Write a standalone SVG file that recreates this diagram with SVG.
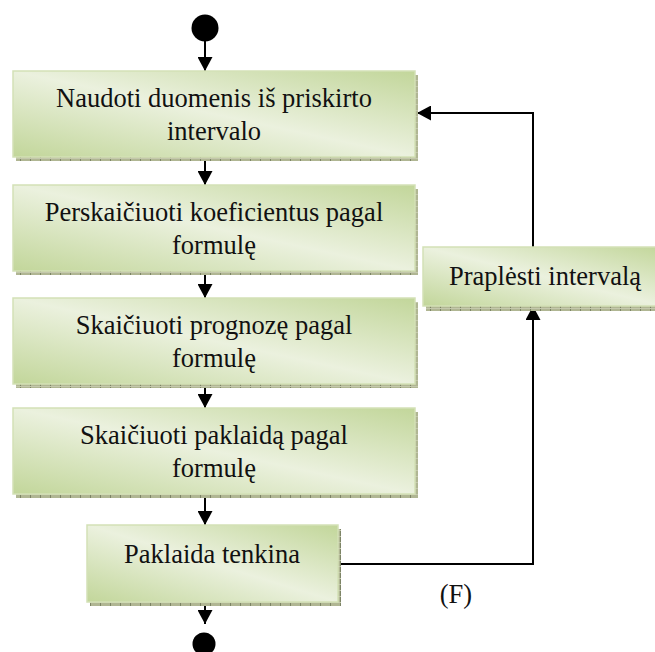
<svg xmlns="http://www.w3.org/2000/svg" width="655" height="652" viewBox="0 0 655 652">
  <defs>
    <linearGradient id="boxFill" x1="1" y1="0" x2="0" y2="1">
      <stop offset="0" stop-color="#c2d69a"/>
      <stop offset="0.5" stop-color="#ebf1de"/>
      <stop offset="1" stop-color="#c2d69a"/>
    </linearGradient>
    <pattern id="shadowTex" width="10" height="6" patternUnits="userSpaceOnUse">
      <rect width="10" height="6" fill="#b0b693"/>
      <rect x="0" y="0" width="1" height="6" fill="#7d8466"/>
      <rect x="0" y="2" width="10" height="1" fill="#c4c8ac"/>
    </pattern>
    <marker id="arrow" viewBox="0 0 14 15" refX="14" refY="7.5" markerWidth="14" markerHeight="15" markerUnits="userSpaceOnUse" orient="auto">
      <path d="M0,0 L14,7.5 L0,15 Z" fill="#000"/>
    </marker>
  </defs>
  <style>
    .shadow { fill: url(#shadowTex); }
    .box { fill: url(#boxFill); stroke: #d3e1b6; stroke-width: 1.5; }
    .label { font-family: "Liberation Serif", "Times New Roman", serif; font-size: 26.5px; fill: #111; text-anchor: middle; }
    .line { fill: none; stroke: #000; stroke-width: 2; }
    .dot { fill: #000; }
  </style>

  <rect width="655" height="652" fill="#fff"/>

  <!-- connectors -->
  <g id="connectors">
    <path class="line" d="M205,40 V71" marker-end="url(#arrow)"/>
    <path class="line" d="M205,157 V185" marker-end="url(#arrow)"/>
    <path class="line" d="M205,271 V298" marker-end="url(#arrow)"/>
    <path class="line" d="M205,384 V408" marker-end="url(#arrow)"/>
    <path class="line" d="M205,494 V525" marker-end="url(#arrow)"/>
    <path class="line" d="M205,602 V624" marker-end="url(#arrow)"/>
    <path class="line" d="M338,564 H533 V306" marker-end="url(#arrow)"/>
    <path class="line" d="M533,247 V113 H417" marker-end="url(#arrow)"/>
    <text class="label" x="456" y="603">(F)</text>
  </g>

  <g id="start">
    <circle class="dot" cx="205" cy="28" r="13.5"/>
  </g>

  <g id="use-data">
    <rect class="shadow" x="16" y="75" width="402" height="86"/>
    <rect class="box" x="13" y="71" width="402" height="86"/>
    <text class="label" x="214" y="107">Naudoti duomenis iš priskirto</text>
    <text class="label" x="214" y="140">intervalo</text>
  </g>

  <g id="recalc-coefficients">
    <rect class="shadow" x="16" y="189" width="402" height="86"/>
    <rect class="box" x="13" y="185" width="402" height="86"/>
    <text class="label" x="214" y="221">Perskaičiuoti koeficientus pagal</text>
    <text class="label" x="214" y="254">formulę</text>
  </g>

  <g id="forecast">
    <rect class="shadow" x="16" y="302" width="402" height="86"/>
    <rect class="box" x="13" y="298" width="402" height="86"/>
    <text class="label" x="214" y="334">Skaičiuoti prognozę pagal</text>
    <text class="label" x="214" y="367">formulę</text>
  </g>

  <g id="error-calc">
    <rect class="shadow" x="16" y="412" width="402" height="86"/>
    <rect class="box" x="13" y="408" width="402" height="86"/>
    <text class="label" x="214" y="444">Skaičiuoti paklaidą pagal</text>
    <text class="label" x="214" y="477">formulę</text>
  </g>

  <g id="error-ok">
    <rect class="shadow" x="90" y="529" width="251" height="77"/>
    <rect class="box" x="87" y="525" width="251" height="77"/>
    <text class="label" x="212" y="563">Paklaida tenkina</text>
  </g>

  <g id="widen-interval">
    <rect class="shadow" x="426" y="251" width="240" height="60"/>
    <rect class="box" x="423" y="247" width="240" height="59"/>
    <text class="label" x="545" y="285">Praplėsti intervalą</text>
  </g>

  <g id="end">
    <circle class="dot" cx="204" cy="644" r="11.5"/>
  </g>
</svg>
